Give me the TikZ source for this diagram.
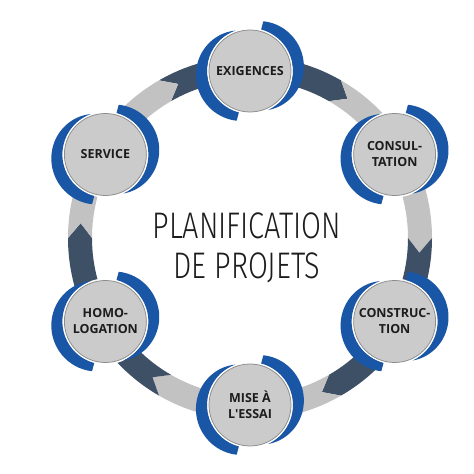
\documentclass[tikz,border=0pt]{standalone}
\usepackage{fontspec}
\setmainfont{Open Sans}
\newfontfamily\titlefont[FakeStretch=0.78]{Fira Sans Light}
\usetikzlibrary{calc}

\definecolor{ringgray}{RGB}{194,194,194}
\definecolor{ringdark}{RGB}{62,80,102}
\definecolor{ringblue}{RGB}{26,86,166}
\definecolor{diskgray}{RGB}{203,203,203}
\definecolor{diskrim}{RGB}{140,140,140}
\definecolor{labeltext}{RGB}{28,28,28}

\tikzset{every picture/.style={line width=0.75pt}}
\tikzset{
  stage/.style={circle, draw=diskrim, fill=diskgray, minimum size=82pt, inner sep=0pt,
    align=center, text=labeltext, font=\bfseries\fontsize{12.5}{16}\selectfont},
  title/.style={align=center, text=labeltext, font=\titlefont\fontsize{37}{40}\selectfont},
}

% ring piece: start angle, end angle, colour (clockwise, chevron ends)
\newcommand{\ringseg}[3]{%
  \fill[#3] ($(hub)+(#1:182)$) arc[start angle=#1, end angle=#2, radius=182]
    -- ($(hub)+({#2-5}:170)$) -- ($(hub)+(#2:158)$)
    arc[start angle=#2, end angle=#1, radius=158]
    -- ($(hub)+({#1-5}:170)$) -- cycle;}

% blue crescent round a stage: centre, from, to
\newcommand{\crescent}[3]{%
  \begin{scope}[shift={(#1)}]
  \fill[ringblue] plot[domain=0:1, samples=40, variable=\s]
      ({#2+(#3-#2)*\s}:{43+12*sin(180*(0.25+0.75*\s))})
    -- (#3:43) arc[start angle=#3, end angle=#2, radius=43] -- cycle;
  \end{scope}}

\begin{document}
\begin{tikzpicture}[x=1pt,y=1pt]
\useasboundingbox (0,0) rectangle (474,474);

\coordinate (hub) at (250,236);
\foreach \ang/\nm in {90/exig, 30/cons, -30/constr, -90/mise, -150/homo, 150/serv}
  \coordinate (p-\nm) at ($(hub)+(\ang:167)$);

%Shape: Ring of arrows
\ringseg{120}{60}{ringdark}
\ringseg{60}{0}{ringgray}
\ringseg{0}{-60}{ringdark}
\ringseg{-60}{-120}{ringgray}
\ringseg{-120}{-180}{ringdark}
\ringseg{180}{120}{ringgray}

%Shape: Blue crescents
\foreach \nm in {exig, cons, constr, mise, homo, serv}{
  \fill[white] (p-\nm) circle[radius=43];
  \crescent{p-\nm}{75}{-65}
  \crescent{p-\nm}{255}{110}
}

% Text Node
\node[stage] (exig) at (p-exig) {EXIGENCES};
% Text Node
\node[stage] (cons) at (p-cons) {CONSUL-\\TATION};
% Text Node
\node[stage] (constr) at (p-constr) {CONSTRUC-\\TION};
% Text Node
\node[stage] (mise) at (p-mise) {MISE À\\L\textquotesingle ESSAI};
% Text Node
\node[stage] (homo) at (p-homo) {HOMO-\\LOGATION};
% Text Node
\node[stage] (serv) at (p-serv) {SERVICE};

% Text Node
\node[title] (plan) at (247,226) {PLANIFICATION\\DE PROJETS};

\end{tikzpicture}
\end{document}
